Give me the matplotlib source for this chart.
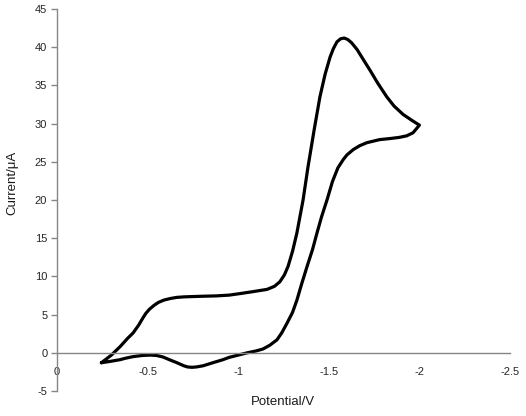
import matplotlib
matplotlib.use("Agg")
import matplotlib.pyplot as plt

# Forward (cathodic) scan
fwd_v = [-0.245, -0.30, -0.348, -0.39, -0.42, -0.45, -0.475, -0.49, -0.51, -0.535,
         -0.56, -0.59, -0.624, -0.66, -0.70, -0.734, -0.80, -0.88, -0.95, -1.01,
         -1.08, -1.159, -1.20, -1.23, -1.255, -1.275, -1.30, -1.324, -1.358, -1.385,
         -1.42, -1.451, -1.48, -1.507, -1.525, -1.545, -1.565, -1.585, -1.605, -1.625,
         -1.656, -1.69, -1.727, -1.77, -1.82, -1.86, -1.91, -1.96, -2.0]
fwd_i = [-1.3, -0.3, 0.8, 1.9, 2.6, 3.6, 4.6, 5.15, 5.7, 6.2,
         6.6, 6.9, 7.1, 7.25, 7.32, 7.35, 7.4, 7.45, 7.55, 7.75,
         8.0, 8.3, 8.7, 9.3, 10.2, 11.3, 13.3, 15.7, 20.0, 24.3,
         29.3, 33.5, 36.5, 38.7, 39.8, 40.7, 41.1, 41.2, 41.0, 40.6,
         39.7, 38.4, 37.0, 35.3, 33.5, 32.3, 31.2, 30.4, 29.8]

# Reverse scan
rev_v = [-2.0, -1.965, -1.93, -1.89, -1.84, -1.78, -1.71, -1.67, -1.635, -1.60,
         -1.58, -1.55, -1.52, -1.49, -1.46, -1.435, -1.41, -1.38, -1.35, -1.324,
         -1.30, -1.27, -1.24, -1.214, -1.175, -1.137, -1.10, -1.05, -1.0, -0.95,
         -0.916, -0.86, -0.806, -0.77, -0.745, -0.72, -0.70, -0.662, -0.62, -0.585,
         -0.55, -0.513, -0.47, -0.42, -0.38, -0.348, -0.30, -0.245]
rev_i = [29.8, 28.8, 28.4, 28.2, 28.05, 27.9, 27.5, 27.1, 26.6, 25.9,
         25.3, 24.2, 22.4, 20.0, 17.8, 15.7, 13.5, 11.3, 9.0, 6.9,
         5.3, 3.9, 2.6, 1.7, 1.0, 0.5, 0.25, 0.0, -0.3, -0.6,
         -0.9, -1.3, -1.7, -1.85, -1.9, -1.85, -1.7, -1.3, -0.9, -0.55,
         -0.35, -0.3, -0.35, -0.5, -0.7, -0.9, -1.1, -1.3]

x_ticks = [0, -0.5, -1, -1.5, -2, -2.5]
x_tick_labels = ["0", "-0.5", "-1", "-1.5", "-2", "-2.5"]
y_ticks = [-5, 0, 5, 10, 15, 20, 25, 30, 35, 40, 45]

plt.rcParams['font.family'] = ['Liberation Sans', 'DejaVu Sans']

W, H = 526, 416
fig = plt.figure(figsize=(W / 100, H / 100), dpi=100)
ax = fig.add_axes([57 / W, 1 - 391 / H, (510 - 57) / W, (391 - 9) / H])

ax.plot(fwd_v + rev_v[1:], fwd_i + rev_i[1:], color='black', lw=2.3,
        solid_joinstyle='round', solid_capstyle='round')

ax.set_xlim(0, -2.5)
ax.set_ylim(-5, 45)

axis_col = '#868686'
for s in ['top', 'right']:
    ax.spines[s].set_visible(False)
ax.spines['bottom'].set_position(('data', 0))
ax.spines['bottom'].set_color(axis_col)
ax.spines['left'].set_color(axis_col)
ax.spines['bottom'].set_linewidth(1)
ax.spines['left'].set_linewidth(1)

ax.set_xticks(x_ticks)
ax.set_xticklabels(x_tick_labels)
ax.set_yticks(y_ticks)
ax.set_yticklabels([str(v) for v in y_ticks])
ax.tick_params(axis='x', length=0, pad=10, labelsize=8, colors='#262626')
ax.tick_params(axis='y', direction='out', length=4, width=1, color=axis_col,
               pad=3, labelsize=8, labelcolor='#262626')
for lab in ax.get_xticklabels():
    lab.set_color('#262626')

fig.text(283 / W, 1 - 402 / H, "Potential/V", ha='center', va='center',
         fontsize=9.5, color='#1a1a1a')
fig.text(12 / W, 1 - 183 / H, "Current/μA", ha='center', va='center',
         rotation=90, fontsize=9.5, color='#1a1a1a')

fig.savefig("out.png", dpi=100)
